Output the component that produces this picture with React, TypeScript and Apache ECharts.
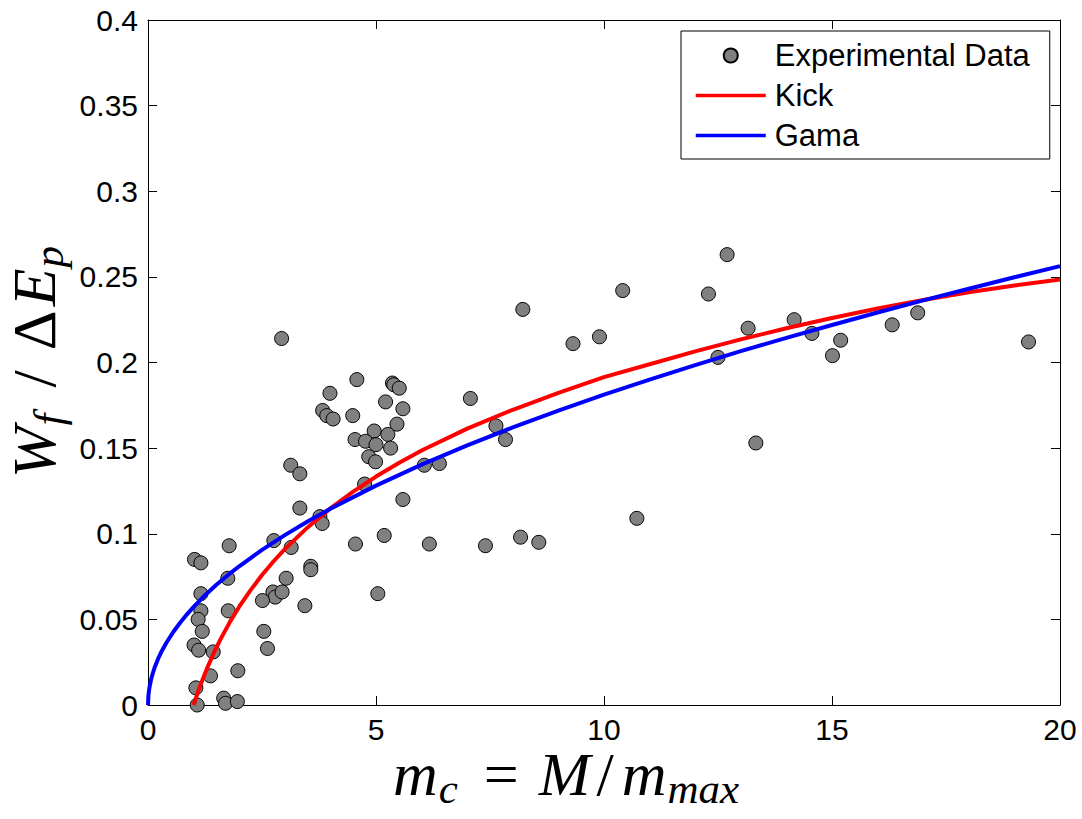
import React, { useEffect, useRef } from "react";
import * as echarts from "echarts";

// Experimental data points [m_c, W_f/ΔE_p]
const expData: number[][] = [
  [2.93, 0.214], [4.58, 0.190], [5.36, 0.188], [5.39, 0.187], [5.51, 0.185],
  [3.99, 0.182], [5.21, 0.177], [5.59, 0.173], [3.83, 0.172], [3.92, 0.169],
  [4.06, 0.167], [4.49, 0.169], [5.46, 0.164], [4.96, 0.160], [5.26, 0.158],
  [4.54, 0.155], [4.77, 0.154], [5.00, 0.152], [5.32, 0.150], [4.84, 0.145],
  [4.99, 0.142], [3.13, 0.140], [3.33, 0.135], [6.06, 0.140], [6.39, 0.141],
  [4.75, 0.129], [5.59, 0.120], [3.33, 0.115], [3.77, 0.110], [3.82, 0.106],
  [2.76, 0.096], [3.14, 0.092], [4.55, 0.094], [5.18, 0.099], [6.17, 0.094],
  [1.78, 0.093], [1.02, 0.085], [1.16, 0.083], [3.57, 0.081], [3.57, 0.079],
  [3.03, 0.074], [1.75, 0.074], [2.74, 0.066], [2.79, 0.063], [2.94, 0.066],
  [2.51, 0.061], [3.44, 0.058], [1.16, 0.065], [5.04, 0.065], [1.16, 0.055],
  [1.76, 0.055], [1.10, 0.050], [1.19, 0.043], [2.54, 0.043], [2.62, 0.033],
  [1.01, 0.035], [1.11, 0.032], [1.43, 0.031], [1.97, 0.020], [1.37, 0.017],
  [1.05, 0.010], [1.66, 0.004], [1.70, 0.001], [1.96, 0.002], [1.08, 0.000],
  [9.32, 0.211], [7.07, 0.179], [7.63, 0.163], [7.84, 0.155], [7.40, 0.093],
  [8.17, 0.098], [8.57, 0.095], [10.41, 0.242], [8.22, 0.231], [9.90, 0.215],
  [10.72, 0.109], [12.70, 0.263], [12.29, 0.240], [13.16, 0.220], [14.17, 0.225],
  [14.56, 0.217], [15.19, 0.213], [15.01, 0.204], [16.32, 0.222], [16.88, 0.229],
  [19.31, 0.212], [12.50, 0.203], [13.33, 0.153],
];

// Kick model curve
const kickX = [1, 1.05, 1.1, 1.2, 1.3, 1.45, 1.6, 1.8, 2, 2.25, 2.5, 2.75, 3, 3.5, 4, 4.5, 5, 5.5, 6, 7, 8, 9, 10, 11, 12, 13, 14, 15, 16, 17, 18, 19, 20];
const kickY = [0, 0.004, 0.0079, 0.0151, 0.0217, 0.0308, 0.0389, 0.0487, 0.0574, 0.0671, 0.0759, 0.0838, 0.091, 0.1037, 0.1148, 0.1246, 0.1334, 0.1413, 0.1486, 0.1614, 0.1724, 0.1822, 0.1915, 0.199, 0.2065, 0.2135, 0.22, 0.226, 0.2315, 0.2365, 0.241, 0.245, 0.2485];

// Gama model curve
const gamaX = [0, 0.01, 0.03, 0.06, 0.1, 0.15, 0.22, 0.3, 0.4, 0.55, 0.7, 0.85, 1, 1.25, 1.5, 1.75, 2, 2.5, 3, 3.5, 4, 5, 6, 7, 8, 9, 10, 11, 12, 13, 14, 15, 16, 17, 18, 19, 20];
const gamaY = [0, 0.0057, 0.0099, 0.014, 0.0181, 0.0222, 0.0269, 0.0314, 0.0362, 0.0425, 0.0479, 0.0528, 0.0573, 0.0641, 0.0702, 0.0758, 0.081, 0.0906, 0.0992, 0.1072, 0.1146, 0.1281, 0.1404, 0.1516, 0.1621, 0.1719, 0.1812, 0.19, 0.1985, 0.2066, 0.2144, 0.2219, 0.2292, 0.2363, 0.2431, 0.2498, 0.2563];

const xTickLabels = ["0", "5", "10", "15", "20"];
const yTickLabels = ["0", "0.05", "0.1", "0.15", "0.2", "0.25", "0.3", "0.35", "0.4"];
const seriesNames = ["Experimental Data", "Kick", "Gama"];

const SANS = "'Liberation Sans', Arial, Helvetica, sans-serif";
const SERIF = "'Liberation Serif', 'Times New Roman', serif";

export default function App() {
  const ref = useRef<HTMLDivElement>(null);
  useEffect(() => {
    if (!ref.current) return;
    const chart = echarts.init(ref.current, undefined, { renderer: "svg" });
    const axisCommon = {
      type: "value" as const,
      axisLine: { show: true, onZero: false, lineStyle: { color: "#000", width: 1 } },
      axisTick: { show: true, inside: true, length: 9, lineStyle: { color: "#000", width: 1 } },
      splitLine: { show: false },
    };
    const F = 62;
    const S = 43;
    const LH = 54;
    const main = { fontFamily: SERIF, fontSize: F, lineHeight: LH, color: "#000" };
    const sub = { fontFamily: SERIF, fontStyle: "italic", fontSize: S, lineHeight: 24, color: "#000" };
    const richMath = {
      i: { ...main, fontStyle: "italic" },
      n: { ...main },
      d: { ...main, padding: [0, 4, 0, 0] },
      s: { ...sub, padding: [29, 0, 0, 1] },
      sf: { ...sub, padding: [29, 14, 0, 1] },
      sc: { ...sub, padding: [29, 12, 0, 1] },
      eq: { ...main, padding: [0, 20, 0, 14] },
      sl: { ...main, padding: [0, 20, 0, 12] },
      sl2: { ...main, padding: [0, 8, 0, 6] },
    };
    chart.setOption({
      animation: false,
      backgroundColor: "#fff",
      grid: { left: 148, right: 22, top: 20, bottom: 114, containLabel: false },
      xAxis: [
        {
          ...axisCommon,
          min: 0, max: 20, interval: 5, position: "bottom",
          axisLabel: {
            fontSize: 30, color: "#000", fontFamily: SANS, margin: 9,
            formatter: (v: number) => xTickLabels[Math.round(v / 5)] ?? "",
          },
        },
        {
          ...axisCommon,
          min: 0, max: 20, interval: 5, position: "top",
          axisLabel: { show: false },
        },
      ],
      yAxis: [
        {
          ...axisCommon,
          min: 0, max: 0.4, interval: 0.05, position: "left",
          axisLabel: {
            fontSize: 30, color: "#000", fontFamily: SANS, margin: 10,
            formatter: (v: number) => yTickLabels[Math.round(v / 0.05)] ?? "",
          },
        },
        {
          ...axisCommon,
          min: 0, max: 0.4, interval: 0.05, position: "right",
          axisLabel: { show: false },
        },
      ],
      legend: {
        data: [
          { name: seriesNames[0] },
          { name: seriesNames[1], itemStyle: { opacity: 0 }, lineStyle: { width: 3.5 } },
          { name: seriesNames[2], itemStyle: { opacity: 0 }, lineStyle: { width: 3.5 } },
        ],
        orient: "vertical",
        left: 681,
        top: 31,
        padding: [9, 20, 8, 13],
        itemWidth: 70,
        itemHeight: 14,
        itemGap: 9,
        backgroundColor: "#fff",
        borderColor: "#000",
        borderWidth: 1,
        borderRadius: 0,
        textStyle: { fontSize: 31, fontFamily: SANS, color: "#000", lineHeight: 30, padding: [0, 0, 0, 4] },
      },
      series: [
        {
          name: seriesNames[0],
          type: "scatter",
          data: expData,
          symbol: "circle",
          symbolSize: 14,
          itemStyle: { color: "#808080", borderColor: "#000", borderWidth: 1, opacity: 1 },
          z: 2,
        },
        {
          name: seriesNames[1],
          type: "line",
          data: kickX.map((x, i) => [x, kickY[i]]),
          symbol: "none",
          showSymbol: false,
          smooth: false,
          lineStyle: { color: "#ff0000", width: 4 },
          itemStyle: { color: "#ff0000" },
          z: 3,
        },
        {
          name: seriesNames[2],
          type: "line",
          data: gamaX.map((x, i) => [x, gamaY[i]]),
          symbol: "none",
          showSymbol: false,
          smooth: false,
          lineStyle: { color: "#0000ff", width: 4 },
          itemStyle: { color: "#0000ff" },
          z: 4,
        },
      ],
      graphic: [
        {
          type: "text",
          x: 34,
          y: 362,
          rotation: Math.PI / 2,
          style: {
            text: "{i|W}{sf|f}{sl|/}{d|Δ}{i|E}{s|p}",
            rich: richMath,
            align: "center",
            verticalAlign: "middle",
          },
        },
        {
          type: "text",
          x: 566,
          y: 774,
          style: {
            text: "{i|m}{sc|c}{eq|=}{i|M}{sl2|/}{i|m}{s|max}",
            rich: richMath,
            align: "center",
            verticalAlign: "middle",
          },
        },
      ],
    });
    return () => chart.dispose();
  }, []);
  return (
    <div
      ref={ref}
      style={{ position: "absolute", left: 0, top: 0, width: 1082, height: 819, background: "#fff" }}
    />
  );
}
